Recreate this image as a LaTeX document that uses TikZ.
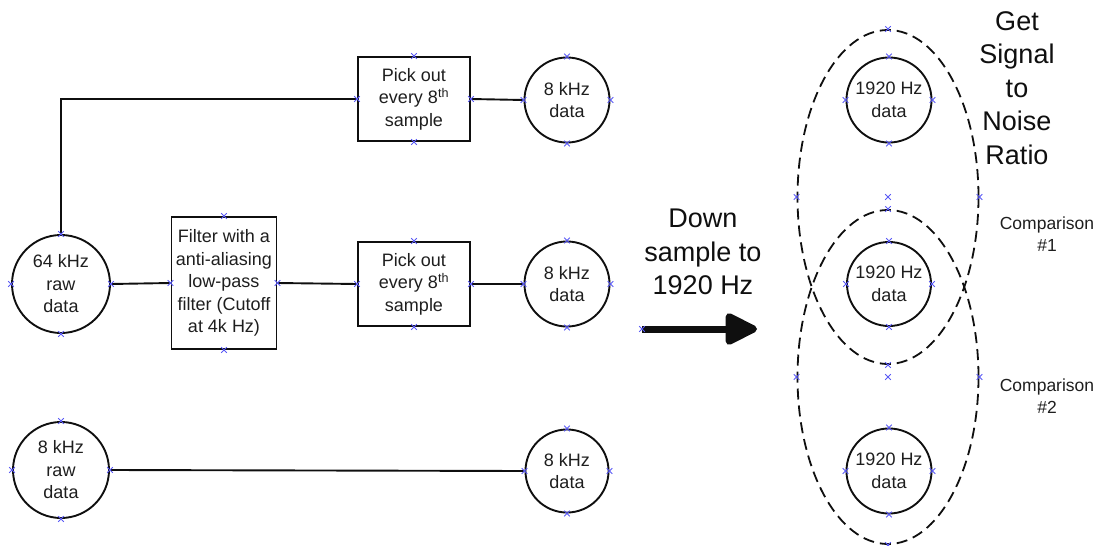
\documentclass[tikz,border=0pt]{standalone}
\usepackage{fontspec}
\setmainfont{Liberation Sans}
\usetikzlibrary{shapes.geometric,arrows.meta}
\definecolor{ink}{RGB}{30,30,30}
\definecolor{edge}{RGB}{15,15,15}
\definecolor{cpblue}{RGB}{90,90,245}

\begin{document}
\begin{tikzpicture}[x=1pt,y=-1pt,
  body/.style={font=\fontsize{18}{22.5}\selectfont,text=ink,align=center},
  datanode/.style={body,circle,draw=edge,line width=1.9pt,inner sep=0pt},
  procbox/.style={body,rectangle,draw=edge,line width=1.9pt,inner sep=0pt},
  cmpring/.style={ellipse,draw=edge,line width=1.8pt,dash pattern=on 11pt off 6pt,
    minimum width=181pt,minimum height=334pt,inner sep=0pt},
  wire/.style={draw=edge,line width=1.9pt},
  bigtext/.style={font=\fontsize{27}{33.5}\selectfont,text=edge,align=center},
  note/.style={font=\fontsize{17.5}{22}\selectfont,text=ink,align=center},
  cpx/.pic={\draw[cpblue,line width=0.9pt] (-2.8,-2.8)--(2.8,2.8) (-2.8,2.8)--(2.8,-2.8);}]

\useasboundingbox (0,0) rectangle (1104,546);

% --- sources and processing chain ---
\node[datanode,minimum size=98pt] (c64) at (61,284) {64 kHz\\raw\\data};
\node[procbox,minimum width=105pt,minimum height=132pt] (filt) at (224,283)
  {Filter with a\\anti-aliasing\\low-pass\\filter (Cutoff\\at 4k Hz)};
\node[procbox,minimum width=112pt,minimum height=84pt] (pickA) at (414,99)
  {Pick out\\every 8\textsuperscript{th}\\sample};
\node[procbox,minimum width=112pt,minimum height=84pt] (pickB) at (414,284)
  {Pick out\\every 8\textsuperscript{th}\\sample};
\node[datanode,minimum size=85pt] (d8A) at (567,100) {8 kHz\\data};
\node[datanode,minimum size=85pt] (d8B) at (567,284) {8 kHz\\data};
\node[datanode,minimum size=96pt] (raw8) at (61,470) {8 kHz\\raw\\data};
\node[datanode,minimum size=83pt] (d8C) at (567,471) {8 kHz\\data};

\draw[wire] (c64.north) |- (pickA.west);
\draw[wire] (pickA.east) -- (d8A.west);
\draw[wire] (c64.east) -- (filt.west);
\draw[wire] (filt.east) -- (pickB.west);
\draw[wire] (pickB.east) -- (d8B.west);
\draw[wire] (raw8.east) -- (d8C.west);

% --- down-sampling arrow ---
\node[bigtext] (down) at (703,252) {Down\\sample to\\1920 Hz};
\coordinate (atail) at (642,329);
\coordinate (ahead) at (757,329);
\draw[edge,line width=7pt,-{Triangle[length=36pt,width=34pt,line join=round]}] (atail) -- (ahead);

% --- 1920 Hz data and comparison rings ---
\node[cmpring] (ringA) at (888,197) {};
\node[cmpring] (ringB) at (888,377) {};
\node[datanode,minimum size=85pt] (h1) at (889,100) {1920 Hz\\data};
\node[datanode,minimum size=84pt] (h2) at (889,284) {1920 Hz\\data};
\node[datanode,minimum size=85pt] (h3) at (889,471) {1920 Hz\\data};

\node[bigtext] (snr) at (1017,88) {Get\\Signal\\to\\Noise\\Ratio};
\node[note] (cmp1) at (1047,234) {Comparison\\\#1};
\node[note] (cmp2) at (1047,396) {Comparison\\\#2};

% --- connection points ---
\foreach \n in {c64,filt,pickA,pickB,d8A,d8B,raw8,d8C,h1,h2,h3,ringA,ringB}
  \foreach \a in {north,south,east,west}
    \path (\n.\a) pic {cpx};
\path (ringA.center) pic {cpx};
\path (ringB.center) pic {cpx};
\path (atail) pic {cpx};
\end{tikzpicture}
\end{document}
